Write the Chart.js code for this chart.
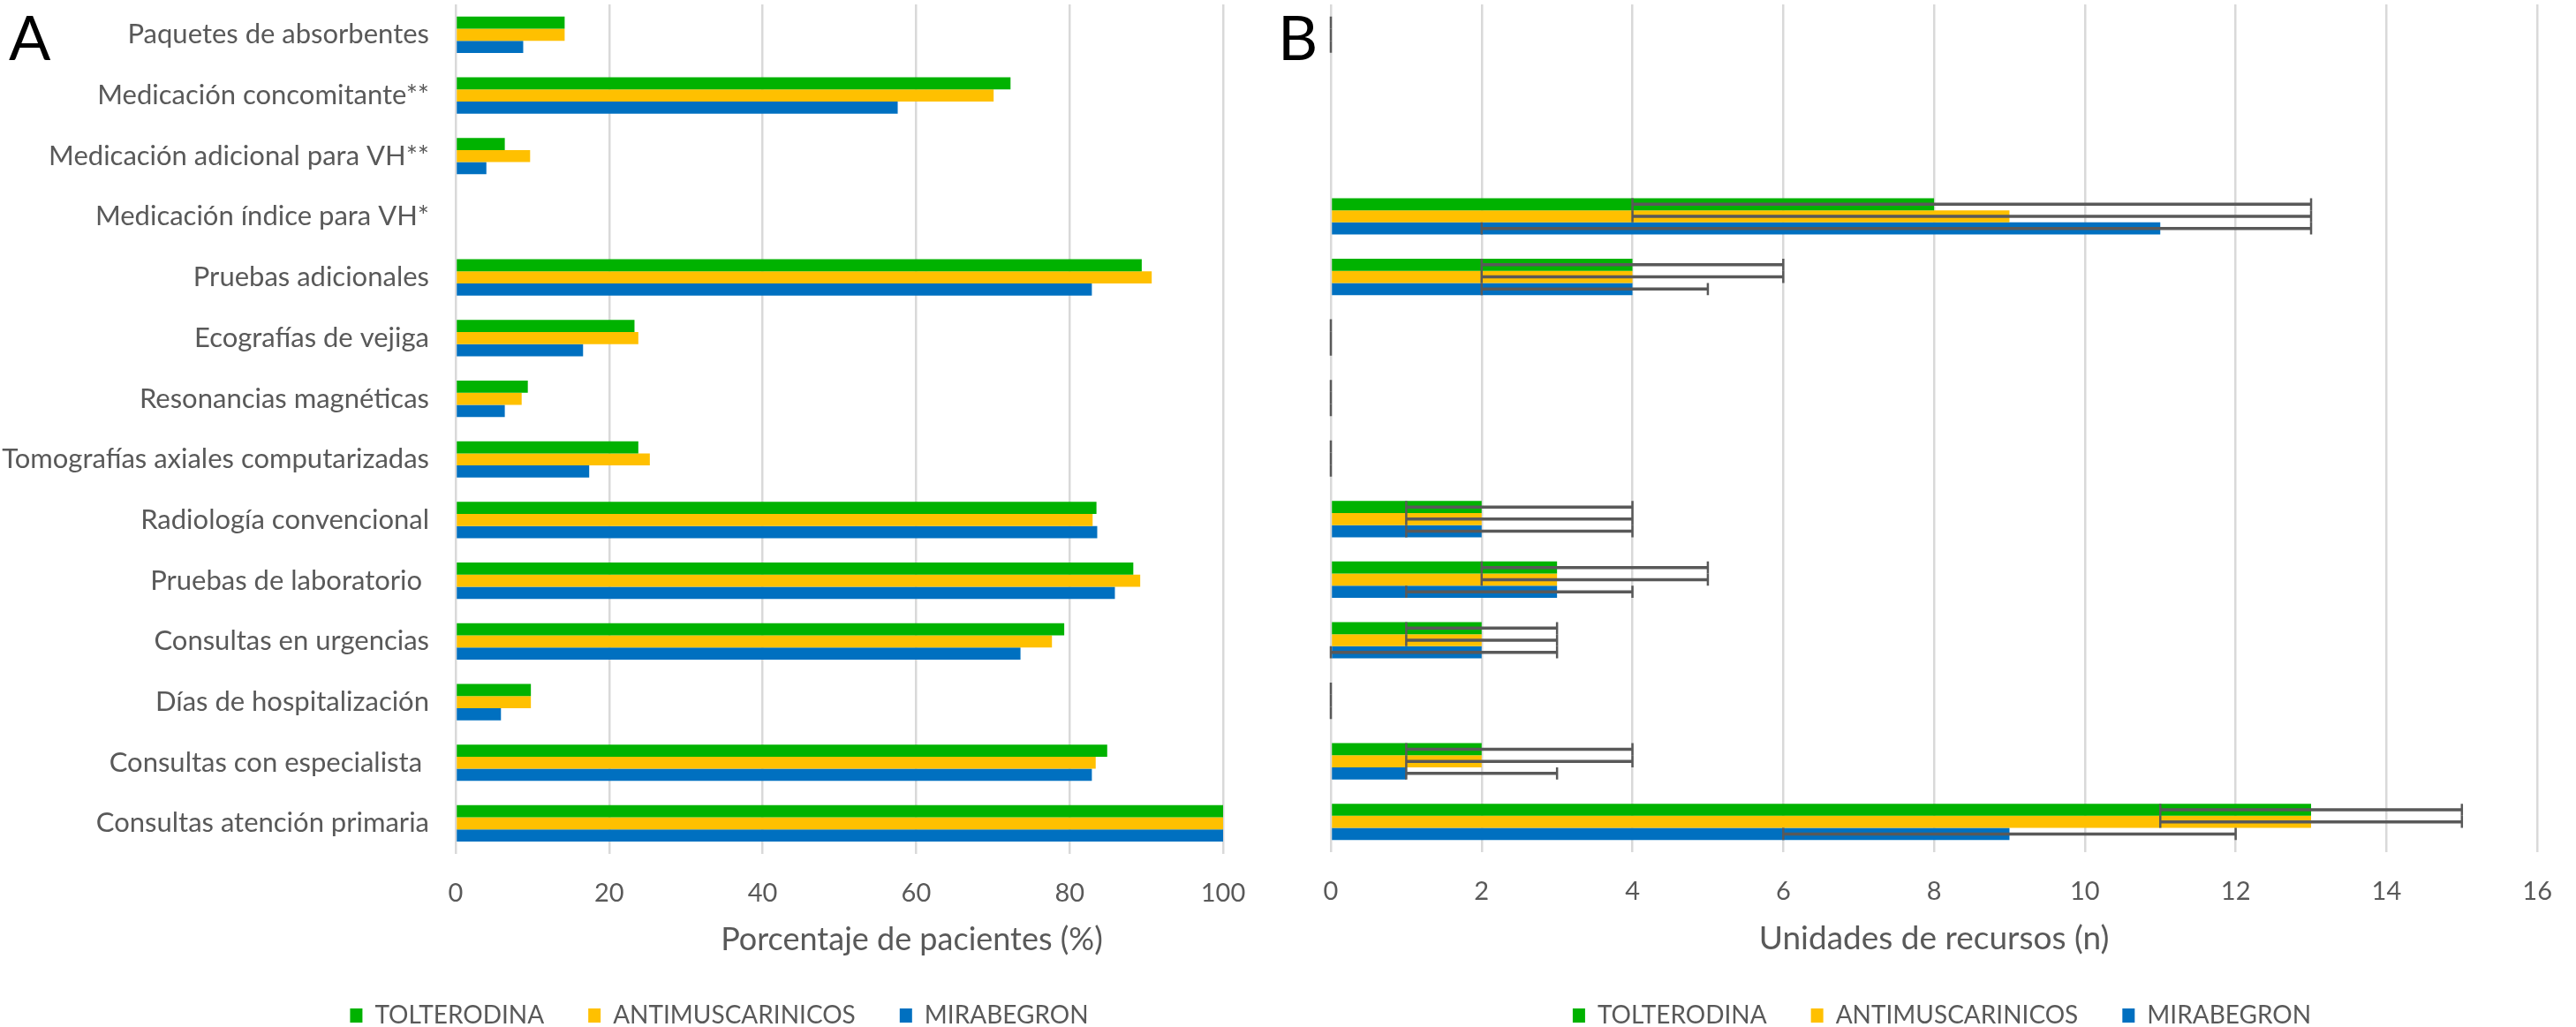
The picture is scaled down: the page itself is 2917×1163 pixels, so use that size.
<!DOCTYPE html>
<html>
<head>
<meta charset="utf-8">
<script src="https://cdn.jsdelivr.net/npm/chart.js@4.4.1/dist/chart.umd.min.js"></script>
<style>
  html, body { margin: 0; padding: 0; background: #fff; overflow: hidden; }
  #wrapA { position: absolute; left: 0; top: 0; width: 1450px; height: 1174px; }
  #wrapB { position: absolute; left: 1420px; top: 0; width: 1497px; height: 1174px; }
</style>
</head>
<body>
<div id="wrapA"><canvas id="chartA"></canvas></div>
<div id="wrapB"><canvas id="chartB"></canvas></div>
<script>
//--------------------------------Data--------------------------------
var categories = [
  'Paquetes de absorbentes',
  'Medicación concomitante**',
  'Medicación adicional para VH**',
  'Medicación índice para VH*',
  'Pruebas adicionales',
  'Ecografías de vejiga',
  'Resonancias magnéticas',
  'Tomografías axiales computarizadas',
  'Radiología convencional',
  'Pruebas de laboratorio ',
  'Consultas en urgencias',
  'Días de hospitalización',
  'Consultas con especialista ',
  'Consultas atención primaria'
];
var seriesNames = ['TOLTERODINA', 'ANTIMUSCARINICOS', 'MIRABEGRON'];
var seriesColors = ['#00B200', '#FFC000', '#0070C0'];

// A: porcentaje de pacientes (%)
var tolterodinaPct   = [14.2, 72.3, 6.4, null, 89.4, 23.3, 9.4, 23.8, 83.5, 88.3, 79.3, 9.8, 84.9, 100];
var antimuscPct      = [14.2, 70.1, 9.7, null, 90.7, 23.8, 8.6, 25.3, 83.0, 89.2, 77.7, 9.8, 83.4, 100];
var mirabegronPct    = [8.8, 57.6, 4.0, null, 82.9, 16.6, 6.4, 17.4, 83.6, 85.9, 73.6, 5.9, 82.9, 100];

// B: unidades de recursos (n), con rango bajo / alto
var tolterodinaN     = [0, null, null, 8, 4, 0, 0, 0, 2, 3, 2, 0, 2, 13];
var tolterodinaLow   = [0, null, null, 4, 2, 0, 0, 0, 1, 2, 1, 0, 1, 11];
var tolterodinaHigh  = [0, null, null, 13, 6, 0, 0, 0, 4, 5, 3, 0, 4, 15];
var antimuscN        = [0, null, null, 9, 4, 0, 0, 0, 2, 3, 2, 0, 2, 13];
var antimuscLow      = [0, null, null, 4, 2, 0, 0, 0, 1, 2, 1, 0, 1, 11];
var antimuscHigh     = [0, null, null, 13, 6, 0, 0, 0, 4, 5, 3, 0, 4, 15];
var mirabegronN      = [0, null, null, 11, 4, 0, 0, 0, 2, 3, 2, 0, 1, 9];
var mirabegronLow    = [0, null, null, 2, 2, 0, 0, 0, 1, 1, 0, 0, 1, 6];
var mirabegronHigh   = [0, null, null, 13, 5, 0, 0, 0, 4, 4, 3, 0, 3, 12];

var ticksA = [0, 20, 40, 60, 80, 100];
var ticksB = [0, 2, 4, 6, 8, 10, 12, 14, 16];
//--------------------------------------------------------------------

Chart.defaults.font.family = "Lato, 'Open Sans', sans-serif";
Chart.defaults.color = '#595959';

// error bars drawn with the x scale of the chart
var errorBars = {
  id: 'errorBars',
  afterDatasetsDraw: function (chart) {
    var ctx = chart.ctx;
    var xs = chart.scales.x;
    chart.data.datasets.forEach(function (ds, di) {
      if (!ds.errLow) return;
      var meta = chart.getDatasetMeta(di);
      meta.data.forEach(function (bar, i) {
        var lo = ds.errLow[i], hi = ds.errHigh[i];
        if (lo == null || hi == null) return;
        var x1 = xs.getPixelForValue(lo);
        var x2 = xs.getPixelForValue(hi);
        var y = bar.y, h = bar.height / 2;
        ctx.save();
        ctx.strokeStyle = '#595959';
        ctx.lineWidth = 3.5;
        ctx.beginPath();
        ctx.moveTo(x1, y); ctx.lineTo(x2, y);
        ctx.stroke();
        ctx.lineWidth = 2.5;
        ctx.beginPath();
        ctx.moveTo(x1, y - h); ctx.lineTo(x1, y + h);
        ctx.moveTo(x2, y - h); ctx.lineTo(x2, y + h);
        ctx.stroke();
        ctx.restore();
      });
    });
  }
};

// big panel letter
var panelLetter = {
  id: 'panelLetter',
  afterDraw: function (chart, args, opts) {
    var ctx = chart.ctx;
    ctx.save();
    ctx.fillStyle = '#000';
    ctx.font = "70px Lato, 'Open Sans', sans-serif";
    ctx.textBaseline = 'alphabetic';
    ctx.fillText(opts.text, opts.x, opts.y);
    ctx.restore();
  }
};

// move legend / title boxes sideways after layout
var boxShift = {
  id: 'boxShift',
  afterLayout: function (chart, args, opts) {
    if (opts.legendDx && chart.legend) {
      chart.legend.left += opts.legendDx;
      chart.legend.right += opts.legendDx;
    }
    if (opts.titleDx && chart.titleBlock) {
      chart.titleBlock.left += opts.titleDx;
      chart.titleBlock.right += opts.titleDx;
    }
  }
};

function makeDatasets(values, lows, highs) {
  return seriesNames.map(function (name, k) {
    var ds = {
      label: name,
      data: values[k],
      backgroundColor: seriesColors[k],
      borderWidth: 0,
      barPercentage: 1.0,
      categoryPercentage: 0.6
    };
    if (lows) { ds.errLow = lows[k]; ds.errHigh = highs[k]; }
    return ds;
  });
}

function xAxis(max, ticks, height, title) {
  return {
    min: 0, max: max,
    afterBuildTicks: function (s) { s.ticks = ticks.map(function (v) { return { value: v }; }); },
    afterFit: function (s) { s.height = height; },
    grid: { color: '#D9D9D9', lineWidth: 2.5, drawTicks: false },
    border: { display: false },
    ticks: { padding: 27, font: { size: 29 }, color: '#595959' },
    title: title
  };
}

function legendOpts() {
  return {
    position: 'bottom',
    labels: { boxWidth: 14, boxHeight: 16, padding: 50, font: { size: 28 }, color: '#595959' }
  };
}

//-------------------------------Panel A------------------------------
new Chart(document.getElementById('chartA'), {
  type: 'bar',
  data: {
    labels: categories,
    datasets: makeDatasets([tolterodinaPct, antimuscPct, mirabegronPct])
  },
  options: {
    indexAxis: 'y',
    responsive: true,
    maintainAspectRatio: false,
    animation: false,
    devicePixelRatio: 1,
    layout: { padding: { left: 0, right: 65, top: 5, bottom: 0 } },
    scales: {
      x: xAxis(100, ticksA, 70, { display: false }),
      y: {
        afterFit: function (s) { s.width = 516; s.paddingTop = 0; s.paddingBottom = 0; },
        grid: { display: false, drawTicks: false },
        border: { display: false },
        ticks: { padding: 30, font: { size: 31 }, color: '#595959', autoSkip: false }
      }
    },
    plugins: {
      // axis title of A sits right of the plot centre, so it is a chart title here
      title: {
        display: true, position: 'bottom', weight: 500,
        text: 'Porcentaje de pacientes (%)',
        font: { size: 36, weight: 'normal' }, color: '#595959',
        padding: { top: 6, bottom: 0 }
      },
      legend: legendOpts(),
      tooltip: { enabled: false },
      panelLetter: { text: 'A', x: 10, y: 68 },
      boxShift: { legendDx: 122, titleDx: 340 }
    }
  },
  plugins: [panelLetter, boxShift]
});

//-------------------------------Panel B------------------------------
new Chart(document.getElementById('chartB'), {
  type: 'bar',
  data: {
    labels: categories,
    datasets: makeDatasets(
      [tolterodinaN, antimuscN, mirabegronN],
      [tolterodinaLow, antimuscLow, mirabegronLow],
      [tolterodinaHigh, antimuscHigh, mirabegronHigh]
    )
  },
  options: {
    indexAxis: 'y',
    responsive: true,
    maintainAspectRatio: false,
    animation: false,
    devicePixelRatio: 1,
    layout: { padding: { left: 87, right: 26, top: 5, bottom: 0 } },
    scales: {
      x: xAxis(16, ticksB, 121, {
        display: true, text: 'Unidades de recursos (n)',
        font: { size: 37 }, color: '#595959', padding: { top: 0, bottom: 1 }
      }),
      y: { display: false }
    },
    plugins: {
      legend: legendOpts(),
      tooltip: { enabled: false },
      panelLetter: { text: 'B', x: 27, y: 68 }
    }
  },
  plugins: [errorBars, panelLetter]
});
</script>
</body>
</html>
